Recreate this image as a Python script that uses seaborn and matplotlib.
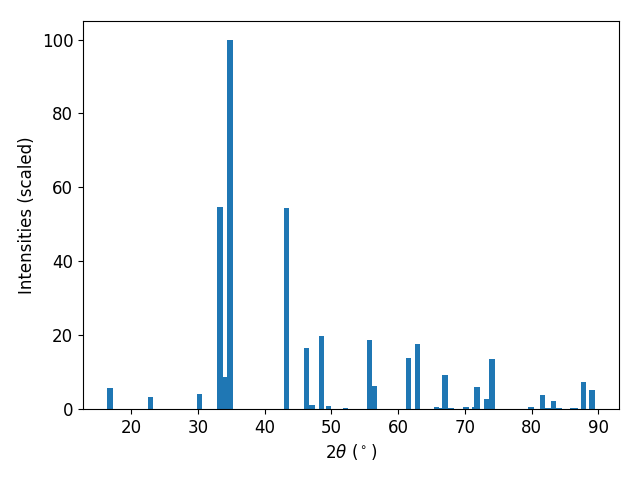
import pandas as pd
import matplotlib
matplotlib.use("Agg")
import matplotlib.pyplot as plt
import seaborn as sns

# peak positions (2theta, degrees) and scaled intensities
two_theta = [16.85, 22.92, 30.27, 33.34, 34.2, 34.84, 43.31, 46.24, 47.1, 48.49,
             49.61, 52.16, 55.76, 56.43, 61.53, 62.95, 65.73, 66.33, 67.0, 67.9,
             70.15, 71.5, 71.83, 73.22, 74.05, 79.9, 81.62, 82.44, 83.27, 84.1,
             86.08, 86.5, 87.77, 89.04]
intensity = [5.7, 3.25, 4.1, 54.7, 8.7, 100.0, 54.4, 16.5, 1.1, 19.8,
             0.8, 0.3, 18.7, 6.2, 13.8, 17.6, 0.5, 0.3, 9.2, 0.3,
             0.5, 0.5, 6.0, 2.7, 13.6, 0.5, 3.8, 0.3, 2.2, 0.3,
             0.3, 0.3, 7.3, 5.1]

df = pd.DataFrame({'two_theta': two_theta, 'intensity': intensity})

plt.rcParams['font.size'] = 12
fig, ax = plt.subplots(figsize=(6.4, 4.8), dpi=100)
sns.barplot(data=df, x='two_theta', y='intensity', native_scale=True,
            color='#1f77b4', saturation=1, errorbar=None, linewidth=0, ax=ax)

# give every peak the same 0.8 degree bar width
for p, x in zip(ax.patches, df['two_theta']):
    p.set_x(x - 0.4)
    p.set_width(0.8)
ax.relim()
ax.autoscale_view()

ax.set_xlabel(r'$2\theta$ ($^\circ$)')
ax.set_ylabel('Intensities (scaled)')
fig.subplots_adjust(left=0.1297, right=0.9672, top=0.956, bottom=0.148)
plt.savefig('out.png')
